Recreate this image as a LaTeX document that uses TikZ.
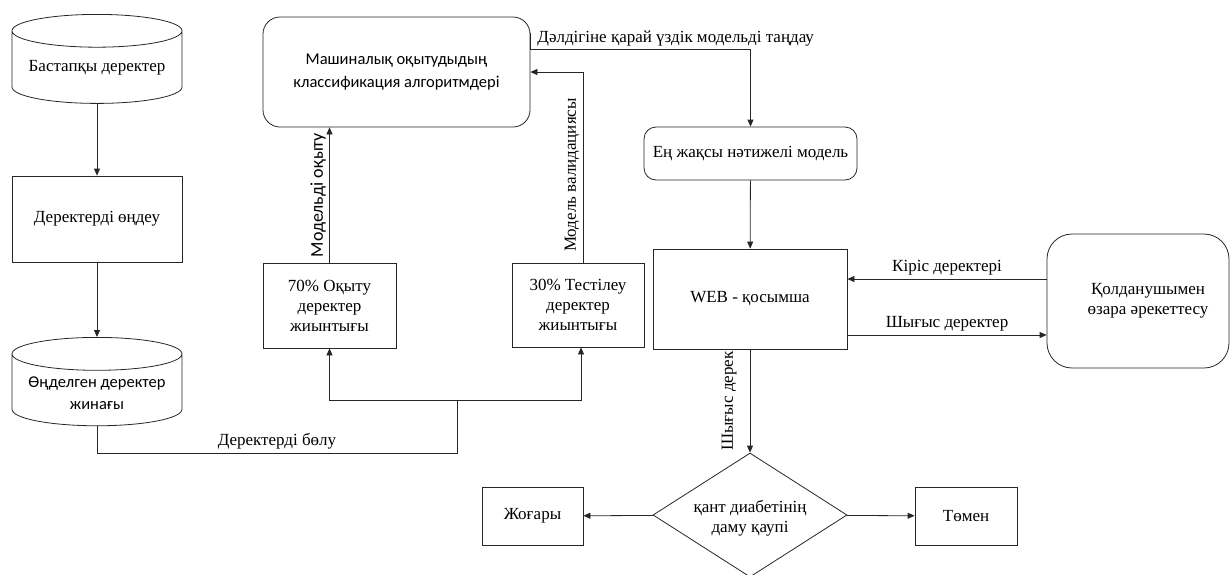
\documentclass[tikz,border=0pt]{standalone}
\usepackage{fontspec}
\setmainfont{Liberation Serif}
\newfontfamily\calibriFont{Carlito}
\usetikzlibrary{shapes.geometric}
\usetikzlibrary{arrows.meta}

\newcommand{\serifText}{\fontsize{17}{20}\selectfont}
\newcommand{\sansText}{\calibriFont\fontsize{16.5}{22.5}\selectfont}

\tikzset{
	flowLine/.style={line width=0.8pt,draw=black!85},
	arr/.style={flowLine,-{Triangle[length=7pt,width=6pt]}},
	plainBox/.style={draw,flowLine,align=center,inner sep=0pt},
	roundBox/.style={plainBox,rounded corners=#1},
	roundBox/.default=15pt,
	storeCyl/.style={cylinder,shape border rotate=90,draw,flowLine,aspect=0.24,align=center,inner sep=0pt,anchor=north},
	decision/.style={diamond,aspect=1.6,draw,flowLine,align=center,inner sep=0pt}
}

\begin{document}
\begin{tikzpicture}[x=1pt,y=-1pt,font=\serifText]
	\useasboundingbox (0,0) rectangle (1231,574);
	
	% Left column - data preparation
	\node[storeCyl,minimum width=170,minimum height=89] (raw) at (97,14) {Бастапқы деректер};
	\node[plainBox,minimum width=170,minimum height=86] (proc) at (97,219) {Деректерді өңдеу};
	\node[storeCyl,minimum width=170,minimum height=83,font=\sansText] (clean) at (97,337) {\rule{0pt}{17pt}Өңделген деректер\\[-1pt]жинағы};
	\draw[arr] (raw) -- (proc);
	\draw[arr] (proc) -- (clean);
	
	% Middle - training and testing sets
	\node[plainBox,minimum width=133,minimum height=85] (train) at (329.5,305.5) {70\% Оқыту\\деректер\\жиынтығы};
	\node[plainBox,minimum width=132,minimum height=84] (test) at (578,305) {30\% Тестілеу\\деректер\\жиынтығы};
	\node[roundBox=17pt,minimum width=267,minimum height=110,font=\sansText] (ml) at (396.5,72) {Машиналық оқытудыдың\\классификация алгоритмдері};
	
	\coordinate (split) at (457,400);
	\draw[flowLine] (clean.south) -- (clean.south |- 0,453) -| node[pos=0.25,above] (splitLbl) {Деректерді бөлу} (split);
	\draw[arr] (split) -| (train.south);
	\draw[arr] (split) -| ([xshift=3pt]test.south);
	\draw[arr] (train.north) -- node[midway,rotate=90,anchor=south,font=\calibriFont\fontsize{18}{22}\selectfont] (trainLbl) {Модельді оқыту} (train.north |- ml.south);
	\draw[arr] ([xshift=5pt]test.north) |- node[pos=0.23,rotate=90,anchor=south] (valLbl) {Модель валидациясы} (ml.east);
	
	% Right - best model and web app
	\node[roundBox=12pt,minimum width=213,minimum height=53] (best) at (750.5,153.5) {Ең жақсы нәтижелі модель};
	\draw[arr] ([yshift=-16pt]ml.north east) -- ++(0,17) -| node[pos=0.33,above] (pickLbl) {Дәлдігіне қарай үздік модельді таңдау} (best.north);
	\node[plainBox,minimum width=194,minimum height=100] (web) at (750,299) {WEB - қосымша};
	\draw[arr] (best) -- (web);
	\node[roundBox=25pt,minimum width=182,minimum height=134] (user) at (1138,301) {\hspace*{20pt}Қолданушымен\\\hspace*{20pt}өзара әрекеттесу};
	\draw[arr] ([yshift=22pt]user.west) -- node[above] (inLbl) {Кіріс деректері} ([yshift=22pt]user.west -| web.east);
	\draw[arr] ([yshift=-36pt]web.east) -- node[above] (outLbl) {Шығыс деректер} ([yshift=-36pt]web.east -| user.west);
	
	% Bottom - risk decision
	\node[decision,minimum width=194,minimum height=124] (risk) at (750,515) {\rule{0pt}{18pt}қант диабетінің\\даму қаупі};
	\draw[arr] (web) -- node[midway,rotate=90,anchor=south,inner sep=13pt] (webLbl) {Шығыс дерек} (risk);
	\node[plainBox,minimum width=101,minimum height=58] (high) at (532.5,516) {Жоғары};
	\node[plainBox,minimum width=102,minimum height=58] (low) at (966,516) {Төмен};
	\draw[arr] (risk) -- (high);
	\draw[arr] (risk) -- (low);
	
\end{tikzpicture}
\end{document}
